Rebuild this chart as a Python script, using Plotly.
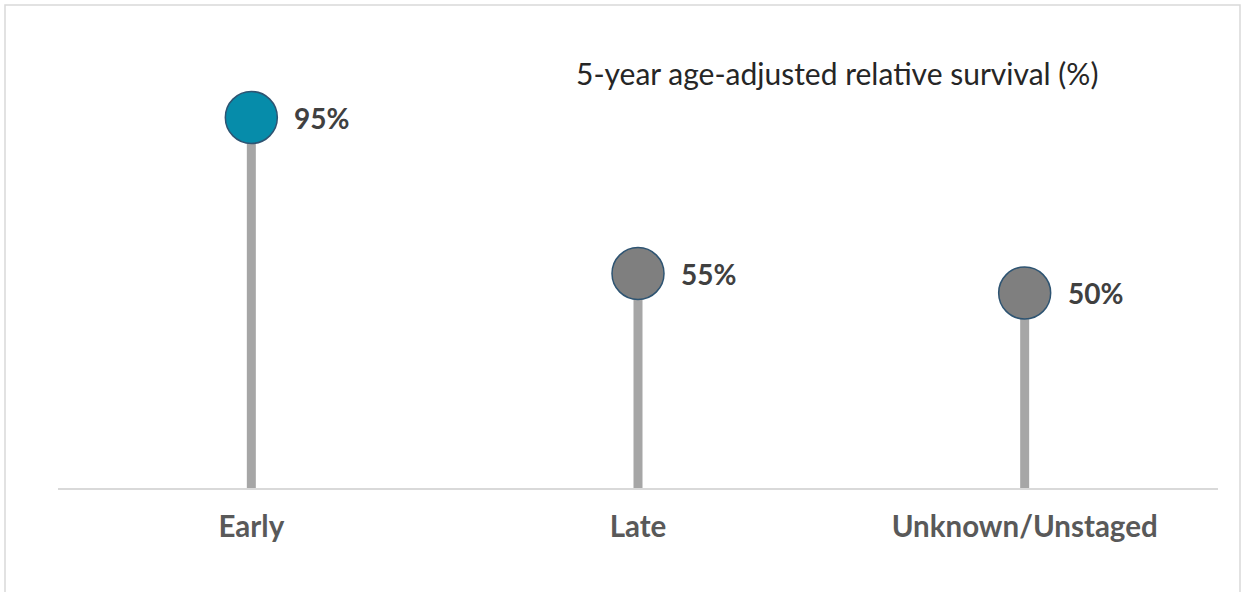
import plotly.graph_objects as go

categories = ["Early", "Late", "Unknown/Unstaged"]
values = [95, 55, 50]
labels = ["95%", "55%", "50%"]
marker_colors = ["#068CAA", "#7F7F7F", "#7F7F7F"]
title_text = "5-year age-adjusted relative survival (%)"

W, H = 1243, 592
L, R, T, B = 58, 25, 98, 104
FONT = "Lato"

fig = go.Figure()

# stems
for c, v in zip(categories, values):
    fig.add_trace(go.Scatter(x=[c, c], y=[0, v], mode="lines",
                             line=dict(color="#A6A6A6", width=9),
                             hoverinfo="skip", showlegend=False, cliponaxis=False))

# heads
fig.add_trace(go.Scatter(x=categories, y=values, mode="markers",
                         marker=dict(size=52, color=marker_colors,
                                     line=dict(color="#2E5472", width=1.5)),
                         showlegend=False, cliponaxis=False))

for c, v, t in zip(categories, values, labels):
    fig.add_annotation(x=c, y=v, text=f"<b>{t}</b>", showarrow=False,
                       xanchor="left", yanchor="middle", xshift=41,
                       font=dict(family=FONT, size=28, color="#404040"))

pw, ph = W - L - R, H - T - B
fig.add_annotation(xref="paper", yref="paper", x=(837 - L) / pw,
                   y=(H - B - 73) / ph, text=title_text, showarrow=False,
                   xanchor="center", yanchor="middle",
                   font=dict(family=FONT, size=30, color="#262626"))

# outer border
fig.add_shape(type="rect", xref="paper", yref="paper",
              x0=(5 - L) / pw, x1=(1240 - L) / pw,
              y0=(H - B - 600) / ph, y1=(H - B - 5) / ph,
              line=dict(color="#D9D9D9", width=1.5), layer="below")

fig.update_layout(
    width=W, height=H,
    margin=dict(l=L, r=R, t=T, b=B),
    paper_bgcolor="white", plot_bgcolor="white",
    font=dict(family=FONT),
    xaxis=dict(type="category", range=[-0.5, 2.5], showgrid=False,
               showline=True, linecolor="#D9D9D9", linewidth=1.5,
               ticks="", ticklabelstandoff=12,
               tickfont=dict(family=FONT, size=29.5, color="#595959"),
               tickvals=categories,
               ticktext=[f"<b>{c}</b>" for c in categories]),
    yaxis=dict(range=[0, 100], showgrid=False, showticklabels=False,
               zeroline=False, showline=False),
)

fig.write_html("out.html")
